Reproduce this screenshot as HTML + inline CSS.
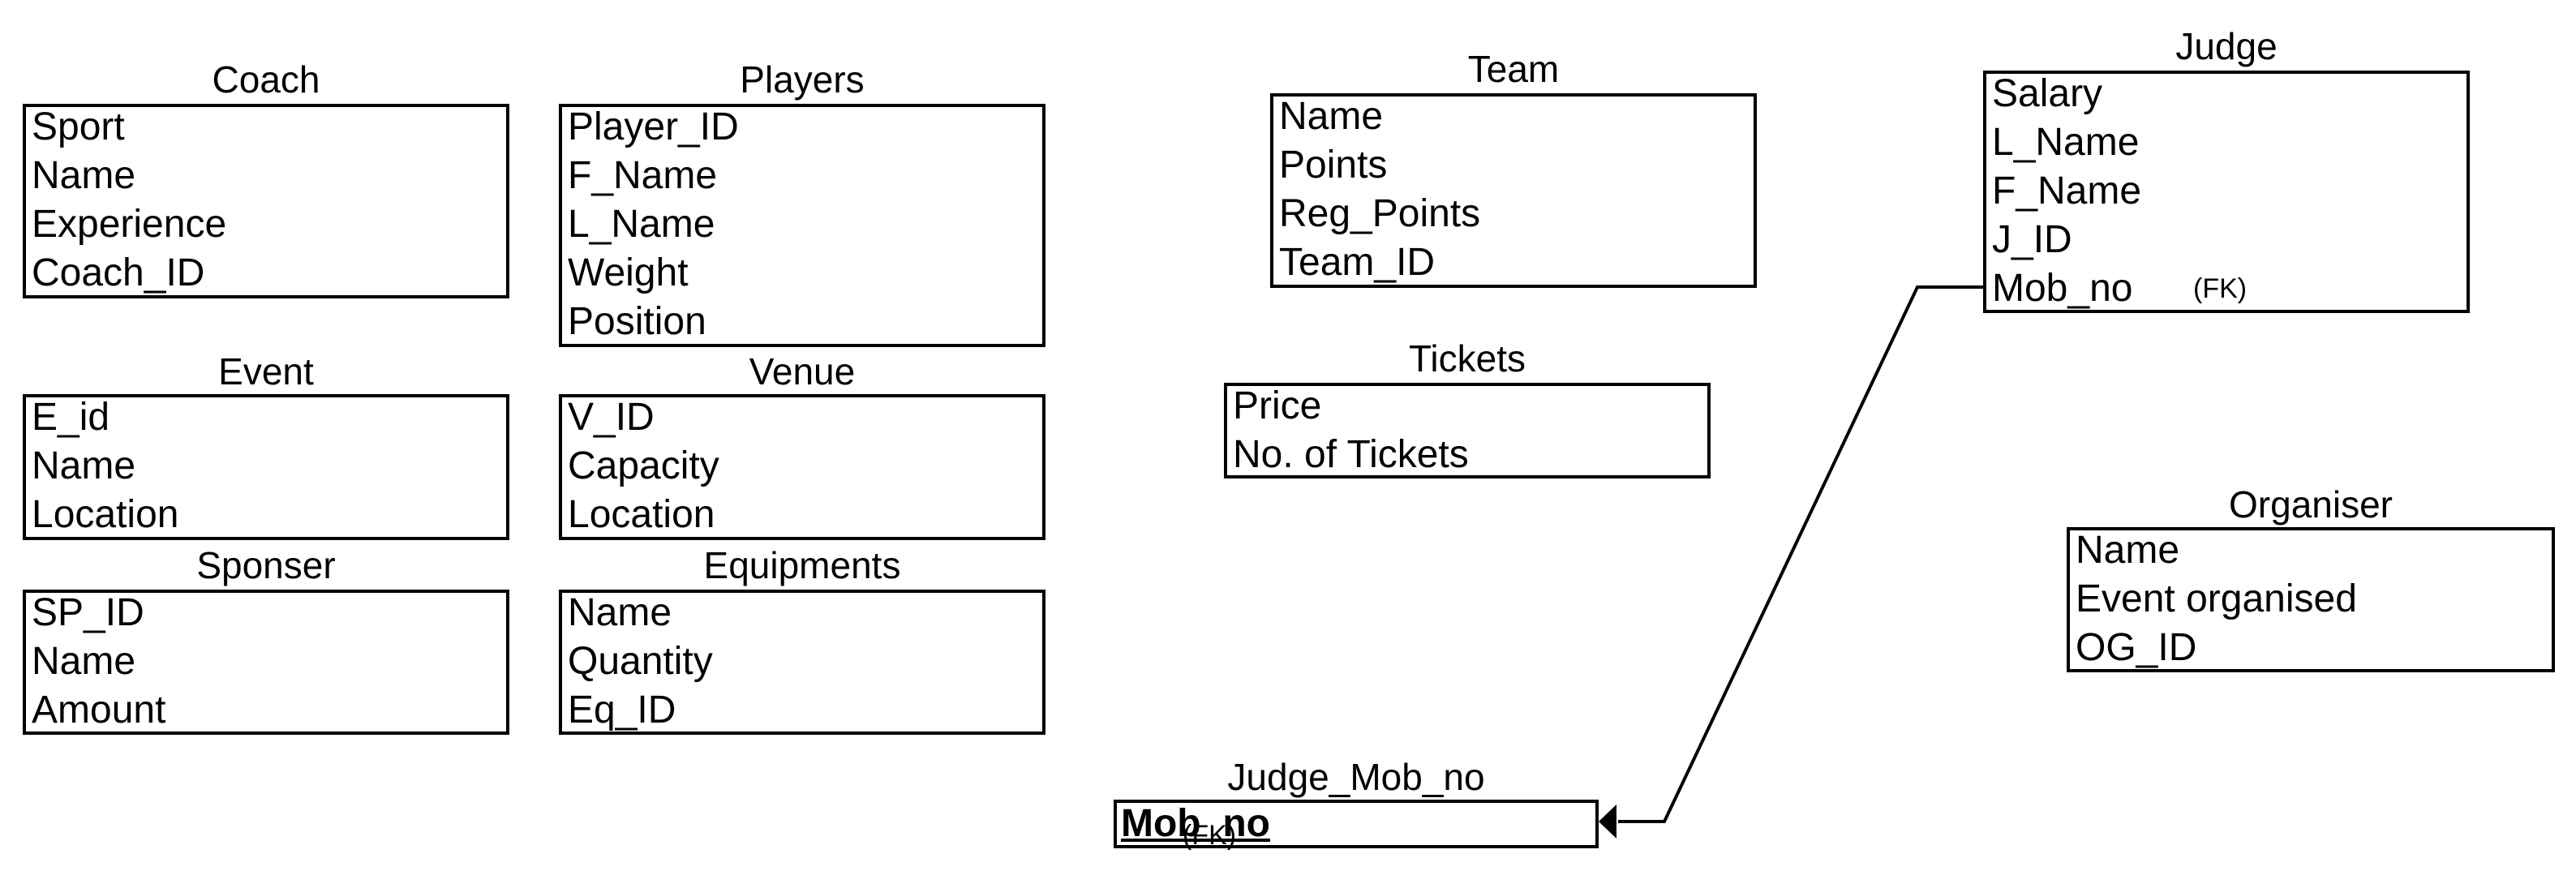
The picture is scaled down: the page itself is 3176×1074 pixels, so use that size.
<!DOCTYPE html>
<html><head><meta charset="utf-8"><style>
body{margin:0;width:3176px;height:1074px;background:#fff;position:relative;overflow:hidden;font-family:"Liberation Sans",Arial,sans-serif;color:#000}
.t{position:absolute;font-size:46px;line-height:56px;text-align:center;white-space:nowrap}
.b{position:absolute;border:4px solid #000;box-sizing:border-box;padding-left:7px;font-size:48px;line-height:60px;white-space:nowrap}
.b>div{height:60px;position:relative;top:-5px}
</style></head><body>
<div class="t" style="left:28px;width:600px;top:70px">Coach</div>
<div class="b" style="left:28px;top:128px;width:600px;height:240px"><div>Sport</div><div>Name</div><div>Experience</div><div>Coach_ID</div></div>
<div class="t" style="left:689px;width:600px;top:70px">Players</div>
<div class="b" style="left:689px;top:128px;width:600px;height:300px"><div>Player_ID</div><div>F_Name</div><div>L_Name</div><div>Weight</div><div>Position</div></div>
<div class="t" style="left:28px;width:600px;top:430px">Event</div>
<div class="b" style="left:28px;top:486px;width:600px;height:180px"><div>E_id</div><div>Name</div><div>Location</div></div>
<div class="t" style="left:689px;width:600px;top:430px">Venue</div>
<div class="b" style="left:689px;top:486px;width:600px;height:180px"><div>V_ID</div><div>Capacity</div><div>Location</div></div>
<div class="t" style="left:28px;width:600px;top:669px">Sponser</div>
<div class="b" style="left:28px;top:727px;width:600px;height:179px"><div>SP_ID</div><div>Name</div><div>Amount</div></div>
<div class="t" style="left:689px;width:600px;top:669px">Equipments</div>
<div class="b" style="left:689px;top:727px;width:600px;height:179px"><div>Name</div><div>Quantity</div><div>Eq_ID</div></div>
<div class="t" style="left:1566px;width:600px;top:57px">Team</div>
<div class="b" style="left:1566px;top:115px;width:600px;height:240px"><div>Name</div><div>Points</div><div>Reg_Points</div><div>Team_ID</div></div>
<div class="t" style="left:1509px;width:600px;top:414px">Tickets</div>
<div class="b" style="left:1509px;top:472px;width:600px;height:118px"><div>Price</div><div>No. of Tickets</div></div>
<div class="t" style="left:2445px;width:600px;top:29px">Judge</div>
<div class="b" style="left:2445px;top:87px;width:600px;height:299px"><div>Salary</div><div>L_Name</div><div>F_Name</div><div>J_ID</div><div>Mob_no<span style="position:absolute;left:248px;font-size:34px">(FK)</span></div></div>
<div class="t" style="left:2548px;width:602px;top:594px">Organiser</div>
<div class="b" style="left:2548px;top:650px;width:602px;height:179px"><div>Name</div><div>Event organised</div><div>OG_ID</div></div>
<div class="t" style="left:1373px;width:598px;top:930px">Judge_Mob_no</div>
<div class="b" style="left:1373px;top:986px;width:598px;height:60px;line-height:52px;padding-left:5px"><div style="top:0px"><b style="text-decoration:underline">Mob_no</b><span style="position:absolute;left:76px;top:20px;font-size:34px;line-height:40px">(FK)</span></div></div>
<svg width="3176" height="1074" style="position:absolute;left:0;top:0">
<polyline points="2445,354 2364,354 2052,1013 1995,1013" fill="none" stroke="#000" stroke-width="4"/>
<polygon points="1971,1013 1993,992 1993,1034" fill="#000"/>
</svg>
</body></html>
